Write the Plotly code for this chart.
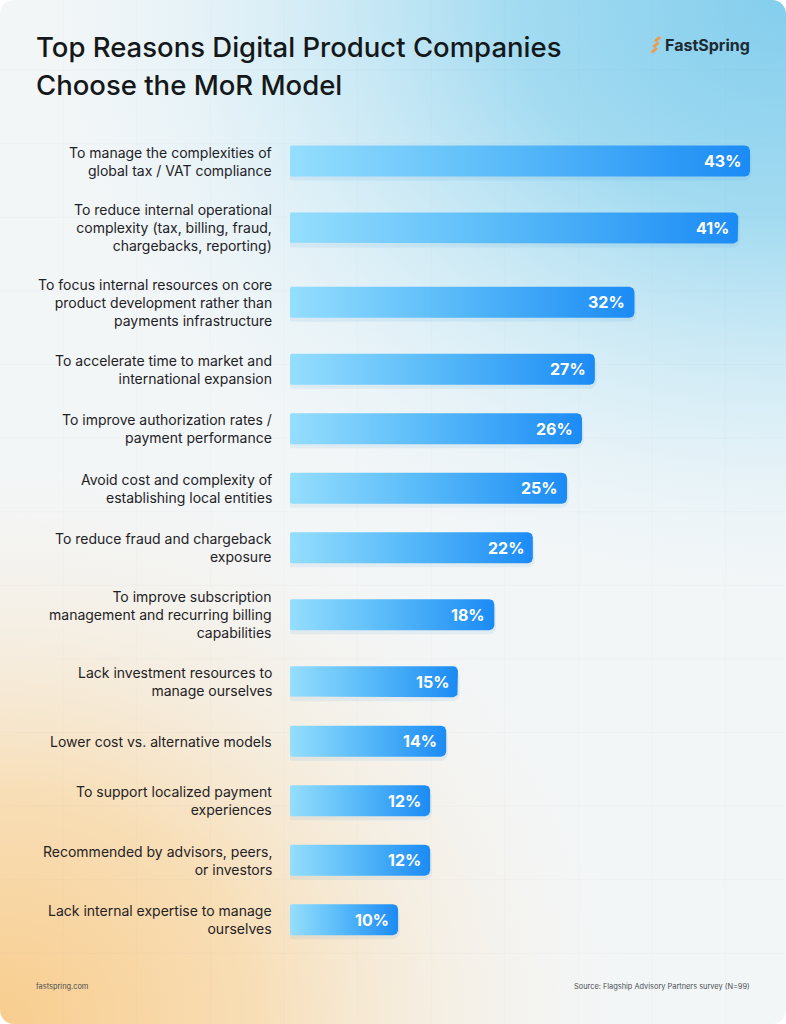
import base64
import numpy as np
import plotly.graph_objects as go

# ---------------- data ----------------
categories = [
    "To manage the complexities of<br>global tax / VAT compliance",
    "To reduce internal operational<br>complexity (tax, billing, fraud,<br>chargebacks, reporting)",
    "To focus internal resources on core<br>product development rather than<br>payments infrastructure",
    "To accelerate time to market and<br>international expansion",
    "To improve authorization rates /<br>payment performance",
    "Avoid cost and complexity of<br>establishing local entities",
    "To reduce fraud and chargeback<br>exposure",
    "To improve subscription<br>management and recurring billing<br>capabilities",
    "Lack investment resources to<br>manage ourselves",
    "Lower cost vs. alternative models",
    "To support localized payment<br>experiences",
    "Recommended by advisors, peers,<br>or investors",
    "Lack internal expertise to manage<br>ourselves",
]
# printed percentages
values = [43, 41, 32, 27, 26, 25, 22, 18, 15, 14, 12, 12, 10]
# bar lengths as drawn in the picture (percentage units)
bar_values = [43.0, 41.9, 32.2, 28.5, 27.3, 25.9, 22.7, 19.1, 15.7, 14.6, 13.1, 13.1, 10.1]
value_labels = [f"{v}%" for v in values]

title_lines = ["Top Reasons Digital Product Companies", "Choose the MoR Model"]
footer_left = "fastspring.com"
footer_right = "Source: Flagship Advisory Partners survey (N=99)"
brand = "FastSpring"

# ---------------- geometry / layout ----------------
W, H = 786, 1024
PX_PER_PCT = 460 / 43       # pixels per percentage point
X0_PX = 290                 # bar baseline (pixels)
U = 29.75                   # pixels per y unit
Y0_PX = 131.25              # pixel of y unit 0
BAR_HALF = 15.5 / U         # half bar height in units

# row centers from label line counts
lines = [c.count("<br>") + 1 for c in categories]
halves = [1 + 0.25 * max(0, n - 2) for n in lines]
centers = []
pos = 0.0
for i, h in enumerate(halves):
    if i == 0:
        pos = h
    else:
        pos += halves[i - 1] + h
    centers.append(pos)

x_dom0 = X0_PX / W
x_range_max = (W - X0_PX) / PX_PER_PCT
y_top = -Y0_PX / U
y_bot = (H - Y0_PX) / U

# ---------------- background svg ----------------
svg = f'''<svg xmlns="http://www.w3.org/2000/svg" width="{W}" height="{H}" viewBox="0 0 {W} {H}">
<defs>
<radialGradient id="b" gradientUnits="userSpaceOnUse" cx="{W}" cy="0" r="780" gradientTransform="translate({W} 0) scale(1 0.8) translate(-{W} 0)">
<stop offset="0" stop-color="#84ceed"/>
<stop offset="0.35" stop-color="#a3dbf1"/>
<stop offset="0.7" stop-color="#d4edf7" stop-opacity="0.65"/>
<stop offset="1" stop-color="#eef6f9" stop-opacity="0"/>
</radialGradient>
<radialGradient id="o" gradientUnits="userSpaceOnUse" cx="0" cy="{H}" r="640" gradientTransform="translate(0 {H}) scale(1 0.9) translate(0 -{H})">
<stop offset="0" stop-color="#f8cd8e"/>
<stop offset="0.4" stop-color="#f8deb6"/>
<stop offset="0.75" stop-color="#f6ecdc" stop-opacity="0.5"/>
<stop offset="1" stop-color="#f4f4f2" stop-opacity="0"/>
</radialGradient>
<pattern id="g" width="73.6" height="73.6" patternUnits="userSpaceOnUse" x="-9.9" y="-3">
<path d="M73.6 0V73.6M0 73.6H73.6" stroke="#5a6b7a" stroke-opacity="0.06" stroke-width="1" fill="none"/>
</pattern>
<clipPath id="c"><rect width="{W}" height="{H}" rx="14" ry="14"/></clipPath>
</defs>
<rect width="{W}" height="{H}" fill="#ffffff"/>
<g clip-path="url(#c)">
<rect width="{W}" height="{H}" fill="#f3f6f7"/>
<rect width="{W}" height="{H}" fill="url(#b)"/>
<rect width="{W}" height="{H}" fill="url(#o)"/>
<rect width="{W}" height="{H}" fill="url(#g)"/>
</g>
</svg>'''
bg_src = "data:image/svg+xml;base64," + base64.b64encode(svg.encode()).decode()

fig = go.Figure()


def rounded_bar(v, c, r_px=5.0, l_px=1.5, n=8):
    rx = r_px / PX_PER_PCT
    ry = r_px / U
    lx = l_px / PX_PER_PCT
    ly = l_px / U
    top = c - BAR_HALF
    bot = c + BAR_HALF
    xs, ys = [], []
    for t in np.linspace(np.pi, 1.5 * np.pi, n):
        xs.append(lx + lx * np.cos(t)); ys.append(top + ly + ly * np.sin(t))
    for t in np.linspace(1.5 * np.pi, 2 * np.pi, n):
        xs.append(v - rx + rx * np.cos(t)); ys.append(top + ry + ry * np.sin(t))
    for t in np.linspace(0, 0.5 * np.pi, n):
        xs.append(v - rx + rx * np.cos(t)); ys.append(bot - ry + ry * np.sin(t))
    for t in np.linspace(0.5 * np.pi, np.pi, n):
        xs.append(lx + lx * np.cos(t)); ys.append(bot - ly + ly * np.sin(t))
    xs.append(xs[0]); ys.append(ys[0])
    return xs, ys


for v, c in zip(bar_values, centers):
    sx, sy = rounded_bar(v + 0.15, c + 4 / U, r_px=7)
    fig.add_trace(go.Scatter(x=sx, y=sy, fill="toself", mode="lines",
                             line=dict(width=0), fillcolor="rgba(70,150,210,0.10)",
                             hoverinfo="skip", showlegend=False))
    bx, by = rounded_bar(v, c)
    fig.add_trace(go.Scatter(
        x=bx, y=by, fill="toself", mode="lines", line=dict(width=0),
        fillgradient=dict(type="horizontal",
                          colorscale=[[0, "#95defd"], [0.45, "#5bbcf9"], [1, "#1b8bf5"]]),
        hoverinfo="skip", showlegend=False))

annotations = []
for v, c, lab in zip(bar_values, centers, value_labels):
    annotations.append(dict(x=v, y=c, xref="x", yref="y", text=f"<b>{lab}</b>",
                            showarrow=False, xanchor="right", yanchor="middle", xshift=-7,
                            font=dict(family="Inter", size=16, color="#ffffff")))
for c, cat in zip(centers, categories):
    annotations.append(dict(x=274 / W, y=c, xref="paper", yref="y", text=cat,
                            showarrow=False, xanchor="right", yanchor="middle", align="right",
                            font=dict(family="Inter", size=14, color="#1e2226")))
for i, t in enumerate(title_lines):
    annotations.append(dict(x=34 / W, y=1 - (47 + 38 * i) / H, xref="paper", yref="paper",
                            text=t, showarrow=False, xanchor="left", yanchor="middle",
                            font=dict(family="Inter", size=27.5, color="#141819", weight=500)))
annotations.append(dict(x=752 / W, y=1 - 45 / H, xref="paper", yref="paper",
                        text=f"<b>{brand}</b>", showarrow=False, xanchor="right", yanchor="middle",
                        font=dict(family="Inter", size=16, color="#1d2a33")))
annotations.append(dict(x=34 / W, y=1 - 986 / H, xref="paper", yref="paper", text=footer_left,
                        showarrow=False, xanchor="left", yanchor="middle",
                        font=dict(family="Inter", size=7.4, color="#4a4e52")))
annotations.append(dict(x=752 / W, y=1 - 986 / H, xref="paper", yref="paper", text=footer_right,
                        showarrow=False, xanchor="right", yanchor="middle",
                        font=dict(family="Inter", size=7.4, color="#4a4e52")))

shapes = []
for k in range(3):
    ytop = 37 + k * 5.5
    x1, x2 = 660 - k * 1.6, 655 - k * 1.6
    shapes.append(dict(type="line", xref="paper", yref="paper",
                       x0=x1 / W, y0=1 - ytop / H, x1=x2 / W, y1=1 - (ytop + 4.5) / H,
                       line=dict(color="#f29a4a", width=3)))

fig.update_layout(
    width=W, height=H,
    margin=dict(l=0, r=0, t=0, b=0),
    paper_bgcolor="#ffffff", plot_bgcolor="rgba(0,0,0,0)",
    xaxis=dict(domain=[x_dom0, 1.0], range=[0, x_range_max], visible=False, fixedrange=True),
    yaxis=dict(domain=[0, 1], range=[y_bot, y_top], visible=False, fixedrange=True),
    images=[dict(source=bg_src, xref="paper", yref="paper", x=0, y=1, sizex=1, sizey=1,
                 sizing="stretch", layer="below", xanchor="left", yanchor="top")],
    annotations=annotations,
    shapes=shapes,
    showlegend=False,
    hovermode=False,
)

fig.write_html("out.html", config={"displayModeBar": False},
               post_script="document.body.style.margin='0';")
